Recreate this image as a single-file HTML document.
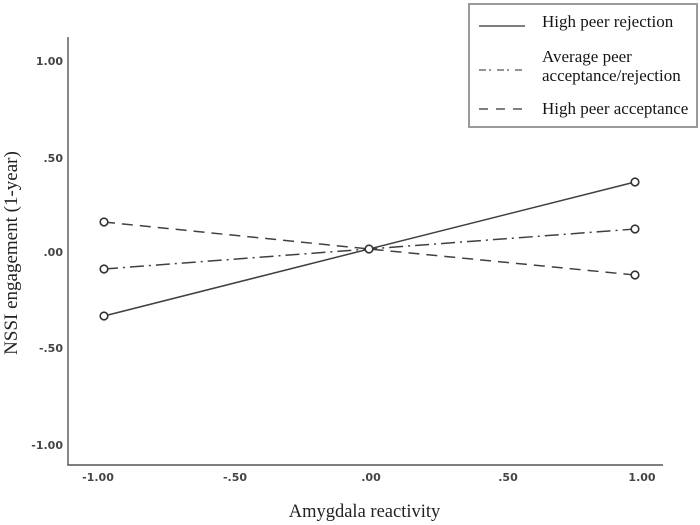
<!DOCTYPE html>
<html>
<head>
<meta charset="utf-8">
<style>
html,body{margin:0;padding:0;background:#fff;}
svg{display:block;}
</style>
</head>
<body>
<svg width="700" height="525" viewBox="0 0 700 525" xmlns="http://www.w3.org/2000/svg">
  <rect width="700" height="525" fill="#fff"/>
  <!-- axes -->
  <line x1="68" y1="37" x2="68" y2="465.5" stroke="#555" stroke-width="1.4"/>
  <line x1="67.3" y1="465" x2="663" y2="465" stroke="#555" stroke-width="1.4"/>
  <!-- y tick labels -->
  <g font-family="DejaVu Sans, sans-serif" font-weight="bold" font-size="11" fill="#444" text-anchor="end">
    <text x="63" y="65">1.00</text>
    <text x="63" y="162">.50</text>
    <text x="63" y="256">.00</text>
    <text x="63" y="352">-.50</text>
    <text x="63" y="449">-1.00</text>
  </g>
  <!-- x tick labels -->
  <g font-family="DejaVu Sans, sans-serif" font-weight="bold" font-size="11" fill="#444" text-anchor="middle">
    <text x="98" y="481">-1.00</text>
    <text x="235" y="481">-.50</text>
    <text x="371" y="481">.00</text>
    <text x="508" y="481">.50</text>
    <text x="642" y="481">1.00</text>
  </g>
  <!-- axis titles -->
  <text x="364.5" y="517" font-family="Liberation Serif, serif" font-size="18.5" fill="#222" text-anchor="middle">Amygdala reactivity</text>
  <text transform="translate(17,253) rotate(-90)" x="0" y="0" font-family="Liberation Serif, serif" font-size="19" fill="#222" text-anchor="middle">NSSI engagement (1-year)</text>
  <!-- series -->
  <g fill="none" stroke="#404040" stroke-width="1.5">
    <polyline points="104,316 369,249 635,182"/>
    <polyline points="104,269 369,249 635,229" stroke-dasharray="14,5,2,5"/>
    <polyline points="104,222 369,249 635,275" stroke-dasharray="11,7"/>
  </g>
  <g fill="#fff" stroke="#333" stroke-width="1.6">
    <circle cx="104" cy="316" r="3.8"/>
    <circle cx="104" cy="269" r="3.8"/>
    <circle cx="104" cy="222" r="3.8"/>
    <circle cx="635" cy="182" r="3.8"/>
    <circle cx="635" cy="229" r="3.8"/>
    <circle cx="635" cy="275" r="3.8"/>
    <circle cx="369" cy="249" r="3.8"/>
  </g>
  <!-- legend -->
  <rect x="469" y="4" width="228" height="123" fill="#fff" stroke="#9a9a9a" stroke-width="2"/>
  <g stroke="#333" stroke-width="1.3" fill="none">
    <line x1="479" y1="26" x2="525" y2="26"/>
    <line x1="479" y1="70" x2="525" y2="70" stroke-dasharray="7,3,2,6" stroke="#555"/>
    <line x1="479" y1="109" x2="525" y2="109" stroke-dasharray="9,8"/>
  </g>
  <g font-family="Liberation Serif, serif" font-size="17" fill="#151515">
    <text x="542" y="27">High peer rejection</text>
    <text x="542" y="62">Average peer</text>
    <text x="542" y="81">acceptance/rejection</text>
    <text x="542" y="114">High peer acceptance</text>
  </g>
</svg>
</body>
</html>
